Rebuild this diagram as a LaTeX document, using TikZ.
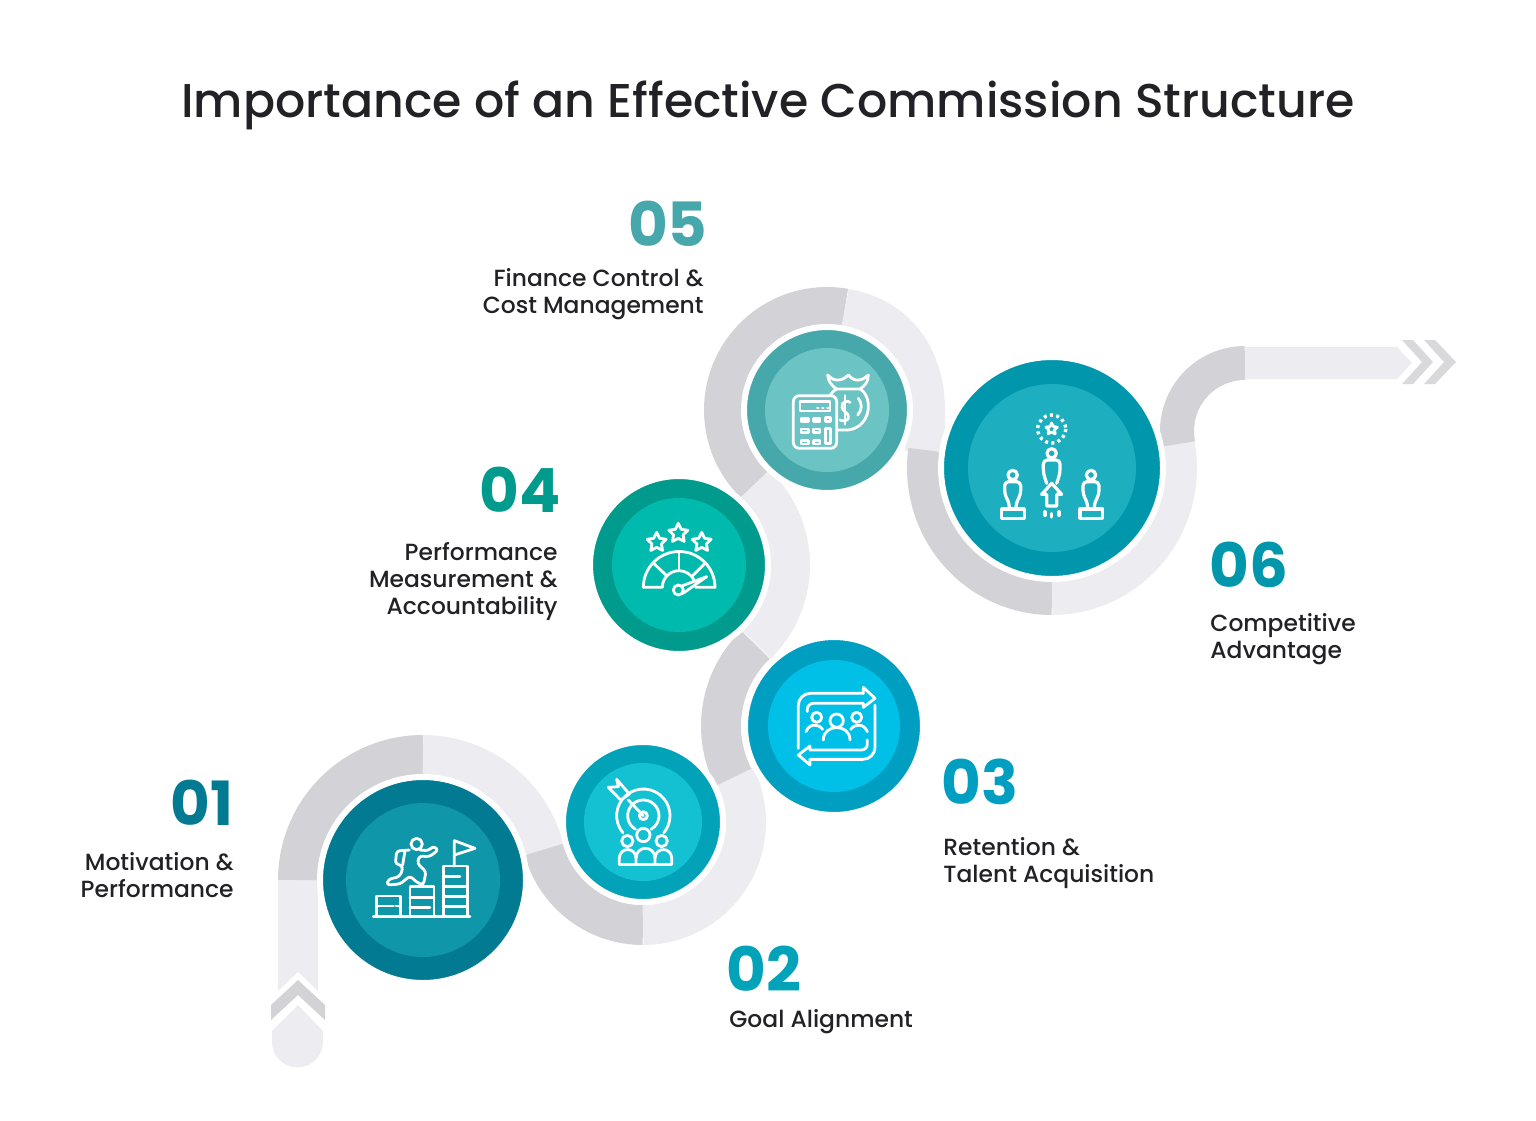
\documentclass[tikz,border=0pt]{standalone}
\usepackage{fontspec}
\setmainfont{Poppins}[UprightFont=* Medium,BoldFont=* Bold]
\usetikzlibrary{shapes.geometric}

\definecolor{trackdark}{HTML}{D3D3D7}
\definecolor{tracklight}{HTML}{EDEDF1}
\definecolor{tipgrey}{HTML}{D9D9DC}
\definecolor{inktext}{HTML}{222226}
\definecolor{oneout}{HTML}{017A92}
\definecolor{onein}{HTML}{0F96A8}
\definecolor{twoout}{HTML}{02A2B8}
\definecolor{twoin}{HTML}{14C1D2}
\definecolor{threeout}{HTML}{009FC2}
\definecolor{threein}{HTML}{00C0E8}
\definecolor{fourout}{HTML}{009B8C}
\definecolor{fourin}{HTML}{00BAAD}
\definecolor{fiveout}{HTML}{47A8AC}
\definecolor{fivein}{HTML}{6CC3C3}
\definecolor{sixout}{HTML}{0097AC}
\definecolor{sixin}{HTML}{1DAEBF}

\tikzset{
	trackarc/.style={line width=20pt, line cap=butt},
	outerdisc/.style={circle, draw=white, line width=3pt, inner sep=0pt, minimum size=#1},
	innerdisc/.style={circle, inner sep=0pt, minimum size=#1},
	itemnum/.style={font=\fontsize{30.5}{30.5}\bfseries\selectfont, inner sep=0pt},
	itemtext/.style={font=\fontsize{11.7}{13.5}\selectfont, text=inktext, inner sep=0pt},
	icon/.style={draw=white, line width=1.4pt, line cap=round, line join=round},
	iconstar/.style={star, star points=5, star point ratio=2, draw=white, line width=1.4pt, line join=round, inner sep=0pt, minimum size=#1},
	crop/.style={x=0.16667pt, y=-0.16667pt},
}

\begin{document}
\begin{tikzpicture}[x=0.5pt, y=-0.5pt]
	\useasboundingbox (0,0) rectangle (1536,1120);

	\node[font=\fontsize{23.7}{24}\selectfont, text=inktext, inner sep=0pt, anchor=base] (title) at (768,117) {Importance of an Effective Commission Structure};

	\coordinate (hubone) at (423,880);
	\coordinate (hubtwo) at (643,822);
	\coordinate (hubthree) at (834,726);
	\coordinate (hubfour) at (679,565);
	\coordinate (hubfive) at (827,410);
	\coordinate (hubsix) at (1052,468);
	\coordinate (hubend) at (1245,431);

	% start of the track
	\fill[tracklight] (278,880) -- (318,880) -- (318,991) -- (298,972) -- (278,991) -- cycle;
	\fill[trackdark] (271,1005) -- (298,980) -- (325,1005) -- (325,1020) -- (298,995) -- (271,1020) -- cycle;
	\fill[tracklight] (272,1031) -- (298,1005) -- (323,1031) -- (323,1042) arc[start angle=0, end angle=180, radius=25.5] -- cycle;

	% track round the discs
	\draw[trackarc, trackdark] (hubone) ++(180:125) arc[start angle=180, end angle=270, radius=125];
	\draw[trackarc, tracklight] (hubone) ++(270:125) arc[start angle=270, end angle=346, radius=125];
	\draw[trackarc, trackdark] (hubtwo) ++(164.5:103) arc[start angle=164.5, end angle=90, radius=103];
	\draw[trackarc, tracklight] (hubtwo) ++(90:103) arc[start angle=90, end angle=-26.6, radius=103];
	\draw[trackarc, trackdark] (hubthree) ++(153:113) arc[start angle=153, end angle=226, radius=113];
	\draw[trackarc, tracklight] (hubfour) ++(45.7:111) arc[start angle=45.7, end angle=-47, radius=111];
	\draw[trackarc, trackdark] (hubfive) ++(134.4:103) arc[start angle=134.4, end angle=280, radius=103];
	\draw[trackarc, tracklight] (hubfive) ++(280:103) .. controls (894,317) and (925,355) .. (925,410) -- (925,451);
	\draw[trackarc, trackdark] (hubsix) ++(188:125 and 127) arc[start angle=188, end angle=90, x radius=125, y radius=127];
	\draw[trackarc, tracklight] (hubsix) ++(90:125 and 127) arc[start angle=90, end angle=-11, x radius=125, y radius=127];
	\draw[trackarc, trackdark, line width=17pt] (hubend) ++(169:68) arc[start angle=169, end angle=270, radius=68];

	% end of the track
	\fill[tracklight] (1245,347) -- (1397,347) -- (1412,363) -- (1397,379) -- (1245,379) -- cycle;
	\fill[tipgrey] (1402,340) -- (1413,340) -- (1433,362) -- (1413,384) -- (1402,384) -- (1422,362) -- cycle;
	\fill[tipgrey] (1424,340) -- (1435,340) -- (1456,362) -- (1435,384) -- (1424,384) -- (1444,362) -- cycle;

	% discs
	\node[outerdisc=103pt, fill=oneout] (discone) at (hubone) {};
	\node[innerdisc=77pt, fill=onein] (coreone) at (hubone) {};
	\node[outerdisc=80pt, fill=twoout] (disctwo) at (hubtwo) {};
	\node[innerdisc=59pt, fill=twoin] (coretwo) at (hubtwo) {};
	\node[outerdisc=89pt, fill=threeout] (discthree) at (hubthree) {};
	\node[innerdisc=66pt, fill=threein] (corethree) at (hubthree) {};
	\node[outerdisc=89pt, fill=fourout] (discfour) at (hubfour) {};
	\node[innerdisc=67pt, fill=fourin] (corefour) at (hubfour) {};
	\node[outerdisc=83pt, fill=fiveout] (discfive) at (hubfive) {};
	\node[innerdisc=62pt, fill=fivein] (corefive) at (hubfive) {};
	\node[outerdisc=111pt, fill=sixout] (discsix) at (hubsix) {};
	\node[innerdisc=84pt, fill=sixin] (coresix) at (hubsix) {};

	% numbers and captions
	\node[itemnum, text=oneout, anchor=base east] (numone) at (234,825) {01};
	\node[itemtext, align=right, anchor=base east] (capone) at (234,897) {Motivation \&\\Performance};
	\node[itemnum, text=twoout, anchor=base west] (numtwo) at (726,991) {02};
	\node[itemtext, align=left, anchor=base west] (captwo) at (729,1027) {Goal Alignment};
	\node[itemnum, text=threeout, anchor=base west] (numthree) at (941,804) {03};
	\node[itemtext, align=left, anchor=base west] (capthree) at (943,882) {Retention \&\\Talent Acquisition};
	\node[itemnum, text=fourout, anchor=base east] (numfour) at (561,512) {04};
	\node[itemtext, align=right, anchor=base east] (capfour) at (558,614) {Performance\\Measurement \&\\Accountability};
	\node[itemnum, text=fiveout, anchor=base east] (numfive) at (708,246) {05};
	\node[itemtext, align=right, anchor=base east] (capfive) at (704,313) {Finance Control \&\\Cost Management};
	\node[itemnum, text=sixout, anchor=base west] (numsix) at (1209,587) {06};
	\node[itemtext, align=left, anchor=base west] (capsix) at (1210,658) {Competitive\\Advantage};

	% icon: runner on stacks
	\begin{scope}[shift={(360,820)}, crop]
		\draw[icon] (40,290) -- (330,290);
		\draw[icon] (50,290) -- (50,228) -- (122,228) -- (122,290);
		\draw[icon] (50,258) -- (100,258) (108,258) -- (122,258);
		\draw[icon] (150,290) -- (150,200) -- (222,200) -- (222,290);
		\draw[icon] (150,232) -- (222,232) (150,262) -- (210,262);
		\draw[icon] (250,290) -- (250,138) -- (322,138) -- (322,290);
		\draw[icon] (250,170) -- (300,170) (250,200) -- (322,200) (250,230) -- (322,230) (250,260) -- (322,260);
		\draw[icon] (283,138) -- (283,62) -- (345,85) -- (283,105);
		\draw[icon] (170,72) circle (17);
		\draw[icon, rounded corners=1.5pt] (148,90) -- (110,93) -- (106,132) -- (125,135) -- (128,150) -- (118,170) -- (85,178) -- (80,195) -- (120,192) -- (150,168) -- (172,188) -- (190,195) -- (198,155) -- (172,130) -- (178,108) -- (208,110) -- (235,90) -- (220,78) -- (205,92) -- (180,90);
		\draw[icon] (135,92) -- (128,135);
	\end{scope}

	% icon: target and team
	\begin{scope}[shift={(600,770)}, crop]
		\draw[icon] (130,137) ++(140:80) arc[start angle=140, end angle=400, radius=80];
		\draw[icon] (130,137) ++(120:47) arc[start angle=120, end angle=420, radius=47];
		\draw[icon] (130,137) circle (12);
		\draw[icon] (130,137) -- (85,90);
		\draw[icon] (50,28) -- (55,50) -- (25,52) -- (62,90) -- (88,72) -- cycle;
		\draw[icon] (130,195) circle (20);
		\draw[icon] (82,213) circle (17);
		\draw[icon] (185,213) circle (17);
		\draw[icon] (58,283) -- (215,283);
		\draw[icon] (58,283) -- (58,265) .. controls (58,230) and (108,230) .. (108,265) -- (108,283);
		\draw[icon] (108,265) .. controls (108,225) and (165,225) .. (165,265) -- (165,283);
		\draw[icon] (165,265) .. controls (165,230) and (215,230) .. (215,265) -- (215,283);
	\end{scope}

	% icon: team inside two arrows
	\begin{scope}[shift={(740,630)}, crop]
		\draw[icon, rounded corners=6pt] (175,355) -- (175,190) -- (370,190);
		\draw[icon] (370,190) -- (370,172) -- (405,205) -- (370,232) -- (370,220);
		\draw[icon, rounded corners=3pt] (370,220) -- (202,220) -- (202,245);
		\draw[icon, rounded corners=6pt] (405,225) -- (405,388) -- (210,388);
		\draw[icon] (210,388) -- (210,405) -- (175,375) -- (210,348) -- (210,360);
		\draw[icon, rounded corners=3pt] (210,360) -- (382,360) -- (382,330);
		\draw[icon] (290,272) circle (20);
		\draw[icon] (230,262) circle (15);
		\draw[icon] (350,262) circle (15);
		\draw[icon] (250,330) .. controls (250,280) and (330,280) .. (330,330);
		\draw[icon] (198,305) .. controls (208,280) and (235,280) .. (248,298);
		\draw[icon] (382,305) .. controls (372,280) and (345,280) .. (332,298);
	\end{scope}

	% icon: stars over a gauge
	\begin{scope}[shift={(625,510)}, crop]
		\node[iconstar=10pt] (starmid) at (160,70) {};
		\node[iconstar=10pt] (starleft) at (95,97) {};
		\node[iconstar=10pt] (starright) at (230,97) {};
		\draw[icon] (55,232) arc[start angle=180, end angle=360, radius=107.5] -- (212,232);
		\draw[icon] (55,232) -- (112,232) arc[start angle=180, end angle=335, radius=50];
		\draw[icon] (162,125) -- (162,182);
		\draw[icon] (88,162) -- (125,197);
		\draw[icon] (238,162) -- (203,197);
		\draw[icon] (160,240) circle (15);
		\draw[icon] (170,228) -- (245,200) -- (174,250);
	\end{scope}

	% icon: calculator and money bag
	\begin{scope}[shift={(785,365)}, crop]
		\draw[icon, rounded corners=3pt] (25,92) rectangle (155,250);
		\draw[icon] (45,110) rectangle (135,138);
		\draw[icon] (97,129) -- (100,129) (112,129) -- (115,129) (127,129) -- (130,129);
		\foreach \rowy in {160,192,227} {
			\draw[icon] (48,\rowy) rectangle (70,\rowy+10);
			\draw[icon] (85,\rowy) rectangle (105,\rowy+10);
		}
		\draw[icon] (122,158) rectangle (136,170);
		\draw[icon] (122,190) rectangle (136,236);
		\draw[icon] (128,30) .. controls (140,45) and (165,55) .. (190,30) .. controls (210,55) and (235,45) .. (250,30) .. controls (250,50) and (240,62) .. (225,72);
		\draw[icon] (128,30) .. controls (130,50) and (140,62) .. (155,72) -- (225,72);
		\draw[icon] (155,72) .. controls (145,78) and (138,85) .. (135,92);
		\draw[icon] (225,72) .. controls (265,95) and (260,185) .. (190,195) -- (157,195);
		\draw[icon] (195,112) .. controls (175,100) and (160,125) .. (180,140) .. controls (200,155) and (190,175) .. (165,165);
		\draw[icon] (180,92) -- (180,178);
		\draw[icon] (220,100) .. controls (232,115) and (232,135) .. (218,150);
	\end{scope}

	% icon: three figures and a star
	\begin{scope}[shift={(990,405)}, crop]
		\node[iconstar=6pt] (starsix) at (185,72) {};
		\draw[icon, line width=1.7pt, line cap=butt, dash pattern=on 1.5pt off 1.7pt] (185,72) circle (42);
		\draw[icon, line width=1.6pt] (185,145) circle (14);
		\draw[icon, line width=1.6pt, rounded corners=2pt] (170,235) -- (160,205) -- (160,165) -- (210,165) -- (210,205) -- (200,235);
		\draw[icon, line width=1.6pt] (185,235) -- (155,268) -- (170,268) -- (170,303) -- (200,303) -- (200,268) -- (215,268) -- cycle;
		\draw[icon, line width=1.6pt] (165,320) -- (165,331) (185,325) -- (185,336) (207,320) -- (207,331);
		\foreach \figx in {0,235} {
			\begin{scope}[xshift=\figx*0.16667pt]
				\draw[icon, line width=1.6pt] (68,210) circle (14);
				\draw[icon, line width=1.6pt, rounded corners=2pt] (58,312) -- (58,295) -- (44,268) -- (44,230) -- (92,230) -- (92,268) -- (78,295) -- (78,312);
				\draw[icon, line width=1.6pt] (35,312) rectangle (103,340);
			\end{scope}
		}
	\end{scope}
\end{tikzpicture}
\end{document}
